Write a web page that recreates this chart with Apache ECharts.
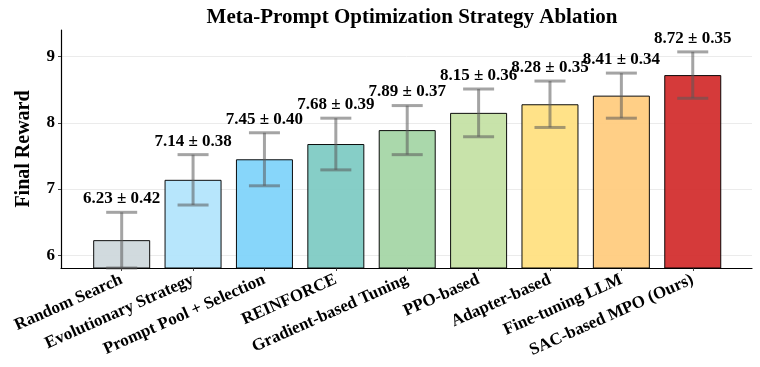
<!DOCTYPE html>
<html><head><meta charset="utf-8">
<script src="https://cdn.jsdelivr.net/npm/echarts@6/dist/echarts.min.js"></script>
<style>html,body{margin:0;padding:0;background:#fff}#c{width:760px;height:367px}</style>
</head><body><div id="c"></div>
<script>
var categories = ['Random Search','Evolutionary Strategy','Prompt Pool + Selection','REINFORCE','Gradient-based Tuning','PPO-based','Adapter-based','Fine-tuning LLM','SAC-based MPO (Ours)'];
var means = [6.23, 7.14, 7.45, 7.68, 7.89, 8.15, 8.28, 8.41, 8.72];
var stds = [0.42, 0.38, 0.40, 0.39, 0.37, 0.36, 0.35, 0.34, 0.35];
var colors = ['#cfd8dc','#b3e5fc','#81d4fa','#80cbc4','#a5d6a7','#c5e1a5','#ffe082','#ffcc80','#d32f2f'];
var yTicks = [6, 7, 8, 9];

var FONT = '"Liberation Serif", "Times New Roman", serif';
var chart = echarts.init(document.getElementById('c'), null, {renderer: 'canvas'});
var idx = categories.map(function(_, i){ return i; });

var option = {
  backgroundColor: '#fff',
  animation: false,
  title: {
    text: 'Meta-Prompt Optimization Strategy Ablation',
    left: 407, top: 2, textAlign: 'center',
    textStyle: {fontFamily: FONT, fontWeight: 'bold', fontSize: 21, color: '#000'}
  },
  grid: {left: 61, right: 8, top: 30, bottom: 99, containLabel: false, outerBoundsMode: 'none'},
  xAxis: {
    type: 'value', min: -0.85, max: 8.83,
    splitLine: {show: false},
    axisLine: {show: true, onZero: false, lineStyle: {color: '#000', width: 1.2}},
    axisTick: {show: true, length: 3, customValues: idx, lineStyle: {color: '#444'}},
    axisLabel: {
      customValues: idx, rotate: 24, margin: 11,
      formatter: function(v){ return categories[Math.round(v)] || ''; },
      fontFamily: FONT, fontWeight: 'bold', fontSize: 17, color: '#000'
    }
  },
  yAxis: {
    type: 'value', min: 5.81, max: 9.40,
    name: 'Final Reward', nameLocation: 'middle', nameGap: 27,
    nameTextStyle: {fontFamily: FONT, fontWeight: 'bold', fontSize: 20, color: '#000'},
    axisLine: {show: true, onZero: false, lineStyle: {color: '#000', width: 1.2}},
    axisTick: {show: true, length: 3, customValues: yTicks, lineStyle: {color: '#444'}},
    axisLabel: {customValues: yTicks, fontFamily: FONT, fontWeight: 'bold', fontSize: 17, color: '#000', margin: 6},
    splitLine: {show: true, customValues: yTicks, lineStyle: {color: '#ebebeb', width: 1}}
  },
  series: [
    {
      type: 'bar',
      barWidth: 57,
      data: means.map(function(m, i){
        return {value: [i, m], itemStyle: {color: colors[i], borderColor: '#000', borderWidth: 1, opacity: 0.95}};
      }),
      z: 2
    },
    {
      type: 'custom',
      z: 5,
      data: means.map(function(m, i){ return [i, m, stds[i]]; }),
      renderItem: function(params, api){
        var x = api.value(0), m = api.value(1), s = api.value(2);
        var top = api.coord([x, m + s]);
        var bot = api.coord([x, m - s]);
        var half = 15.5;
        var st = {stroke: 'rgba(90,90,90,0.55)', lineWidth: 3};
        return {
          type: 'group',
          children: [
            {type: 'line', shape: {x1: top[0], y1: top[1], x2: bot[0], y2: bot[1]}, style: st},
            {type: 'line', shape: {x1: top[0]-half, y1: top[1], x2: top[0]+half, y2: top[1]}, style: st},
            {type: 'line', shape: {x1: bot[0]-half, y1: bot[1], x2: bot[0]+half, y2: bot[1]}, style: st},
            {type: 'text', x: top[0], y: top[1] - 5, style: {
              text: m.toFixed(2) + ' ± ' + s.toFixed(2),
              align: 'center', verticalAlign: 'bottom',
              font: 'bold 17px ' + FONT, fill: '#000'
            }}
          ]
        };
      }
    }
  ]
};
chart.setOption(option);
</script>
</body></html>
